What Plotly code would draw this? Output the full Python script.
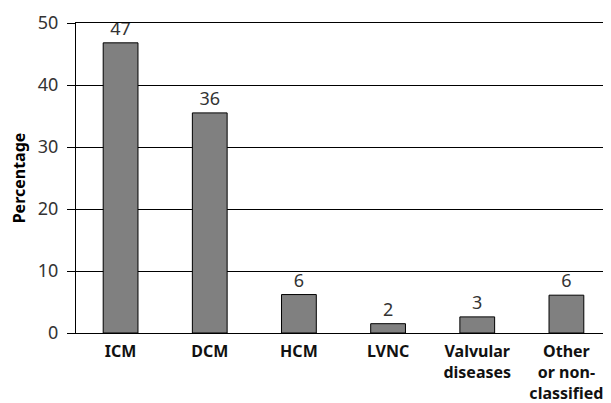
import plotly.graph_objects as go

categories = ["ICM", "DCM", "HCM", "LVNC", "Valvular<br>diseases", "Other<br>or non-<br>classified"]
values = [46.8, 35.5, 6.2, 1.5, 2.6, 6.1]
value_labels = ["47", "36", "6", "2", "3", "6"]
y_ticks = [0, 10, 20, 30, 40, 50]

FONT = "Noto Sans"

fig = go.Figure()
fig.add_trace(go.Bar(
    x=categories,
    y=values,
    customdata=value_labels,
    texttemplate="%{customdata}",
    textposition="outside",
    textfont=dict(family=FONT, size=18, color="#333333"),
    cliponaxis=False,
    width=0.39,
    marker=dict(color="#808080", line=dict(color="#000000", width=1)),
    hoverinfo="skip",
))

fig.update_layout(
    width=611, height=403,
    margin=dict(l=68, r=8, t=15, b=78, pad=0, autoexpand=False),
    paper_bgcolor="white", plot_bgcolor="white",
    showlegend=False,
    font=dict(family=FONT),
    xaxis=dict(
        automargin=False,
        showline=True, linecolor="black", linewidth=1,
        mirror=True,
        showgrid=False, ticks="",
        tickfont=dict(family=FONT, size=16, color="#111111", weight="bold"),
        ticklabelstandoff=4,
    ),
    yaxis=dict(
        automargin=False,
        range=[0, 50],
        tickvals=y_ticks,
        showline=True, linecolor="black", linewidth=1,
        showgrid=True, gridcolor="black", gridwidth=1,
        zeroline=False,
        ticks="outside", ticklen=8, tickcolor="black", tickwidth=1,
        tickfont=dict(family=FONT, size=18, color="#333333"),
        ticklabelstandoff=5,
        title=dict(text="<b>Percentage</b>", font=dict(family=FONT, size=16, color="black"), standoff=11),
    ),
)

fig.write_html("out.html")
